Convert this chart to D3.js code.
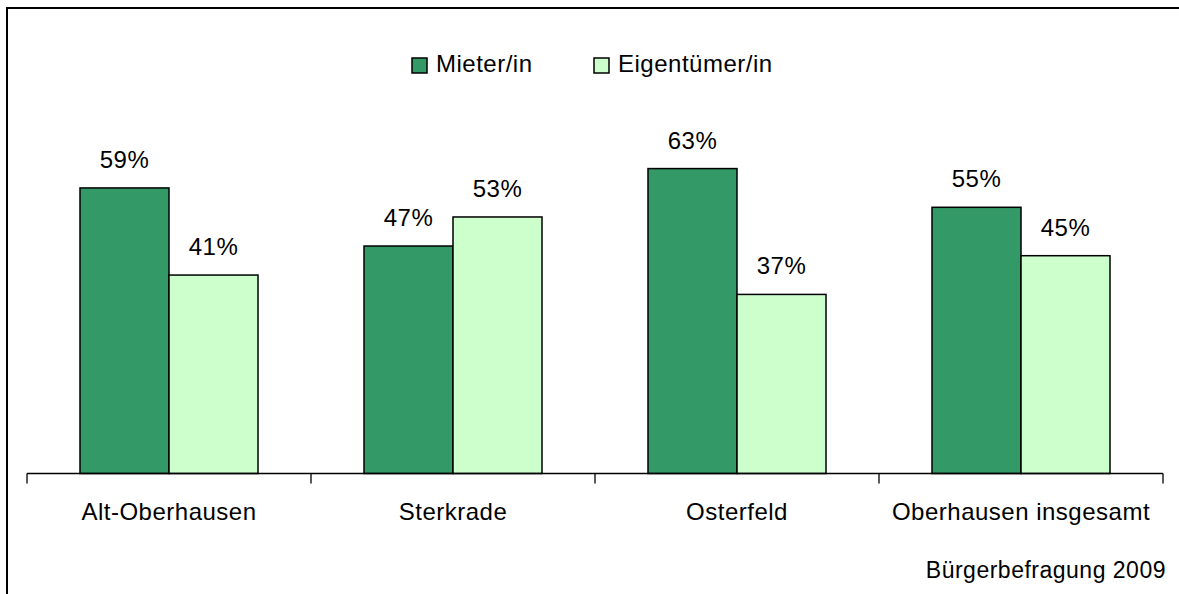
<!DOCTYPE html>
<html><head><meta charset="utf-8">
<script src="https://cdn.jsdelivr.net/npm/d3@7"></script>
<style>
html,body{margin:0;padding:0;background:#fff;overflow:hidden;}
svg{display:block;font-family:"Liberation Sans",Arial,sans-serif;}
</style></head>
<body>
<svg id="chart" width="1179" height="594"></svg>
<script>
const categories = ["Alt-Oberhausen", "Sterkrade", "Osterfeld", "Oberhausen insgesamt"];
const seriesNames = ["Mieter/in", "Eigentümer/in"];
const mieter = [59, 47, 63, 55];
const eigentuemer = [41, 53, 37, 45];
const colors = ["#339966", "#CCFFCC"];
const source = "Bürgerbefragung 2009";

const svg = d3.select("#chart");
const W = 1179, H = 594;

// frame (only top & left edges visible in the crop)
svg.append("path").attr("d", `M7,${H}V8H${W}`)
  .attr("fill", "none").attr("stroke", "#000").attr("stroke-width", 2);

const x0 = d3.scaleBand().domain(categories).range([27, 1163]).paddingInner(0).paddingOuter(0);
const x1 = d3.scaleBand().domain(seriesNames).range([53, x0.bandwidth() - 53]);
const y = d3.scaleLinear().domain([0, 100]).range([473.5, -10.5]);

const data = categories.map((c, i) => ({cat: c, vals: [
  {s: seriesNames[0], v: mieter[i], c: colors[0]},
  {s: seriesNames[1], v: eigentuemer[i], c: colors[1]}]}));

const g = svg.append("g");
const groups = g.selectAll("g.grp").data(data).join("g")
  .attr("transform", d => `translate(${x0(d.cat)},0)`);

groups.selectAll("rect").data(d => d.vals).join("rect")
  .attr("x", d => x1(d.s))
  .attr("y", d => y(d.v))
  .attr("width", x1.bandwidth())
  .attr("height", d => y(0) - y(d.v))
  .attr("fill", d => d.c)
  .attr("stroke", "#000").attr("stroke-width", 1.5);

groups.selectAll("text.val").data(d => d.vals).join("text")
  .attr("class", "val")
  .attr("x", d => x1(d.s) + x1.bandwidth() / 2)
  .attr("y", d => y(d.v) - 20)
  .attr("text-anchor", "middle")
  .attr("font-size", 24).attr("letter-spacing", 0.5)
  .attr("fill", "#000")
  .text(d => d.v + "%");

// x axis
const axis = d3.axisBottom(x0).tickSize(0).tickFormat("");
const ax = svg.append("g").attr("transform", `translate(0,${y(0)})`).call(axis);
ax.select(".domain").attr("stroke", "#000").attr("stroke-width", 1.3).attr("d", `M27,0H1163`);
const tickPos = categories.map(c => x0(c)).concat([x0.range()[1]]);
svg.append("g").selectAll("line").data(tickPos).join("line")
  .attr("x1", d => d).attr("x2", d => d)
  .attr("y1", y(0)).attr("y2", y(0) + 10)
  .attr("stroke", "#000").attr("stroke-width", 1.3);

svg.append("g").selectAll("text").data(categories).join("text")
  .attr("x", d => x0(d) + x0.bandwidth() / 2)
  .attr("y", 520)
  .attr("text-anchor", "middle")
  .attr("font-size", 24).attr("letter-spacing", 0.5)
  .attr("fill", "#000")
  .text(d => d);

// legend
const legX = [412, 594];
const leg = svg.append("g").selectAll("g").data(seriesNames).join("g")
  .attr("transform", (d, i) => `translate(${legX[i]},58)`);
leg.append("rect").attr("width", 15).attr("height", 15)
  .attr("fill", (d, i) => colors[i]).attr("stroke", "#000").attr("stroke-width", 1.5);
leg.append("text").attr("x", 24).attr("y", 14)
  .attr("font-size", 24).attr("letter-spacing", 0.5).attr("fill", "#000")
  .text(d => d);

svg.append("text").attr("x", 1166).attr("y", 578)
  .attr("text-anchor", "end").attr("font-size", 23).attr("letter-spacing", 0.5)
  .attr("fill", "#000").text(source);
</script>
</body></html>
